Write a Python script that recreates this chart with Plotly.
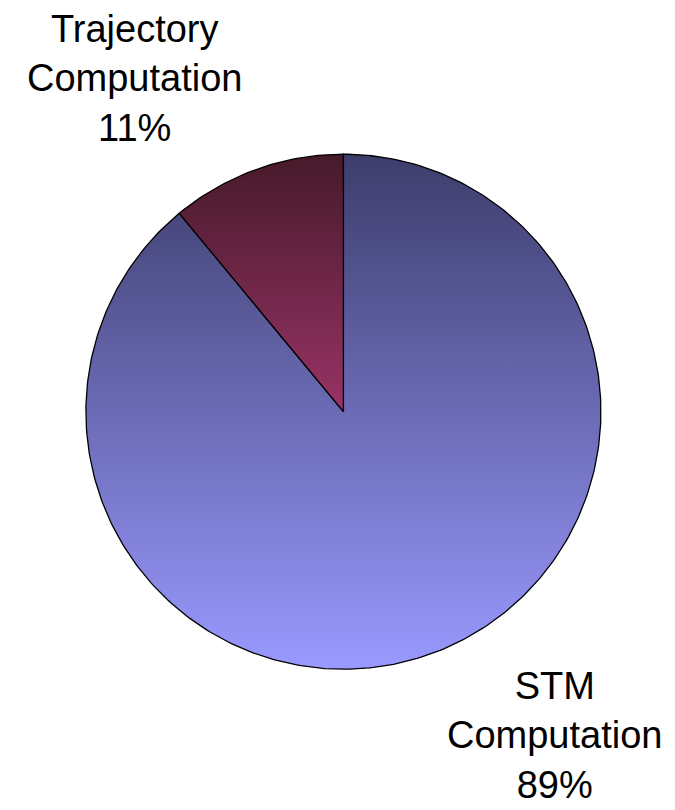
import numpy as np
import plotly.graph_objects as go

# ---- data ----
categories = ["STM<br>Computation", "Trajectory<br>Computation"]
values = [89, 11]
top_colors = ["#3d3d6c", "#461a2a"]
bottom_colors = ["#9999ff", "#993366"]

# ---- layout constants (pixels) ----
W, H = 675, 810
CX, CY, R = 343.4, 411.7, 257.5   # pie centre / radius in px
label_pos_px = [(554, 735), (134, 78)]

x_range = [-CX / R, (W - CX) / R]
y_range = [-(H - CY) / R, CY / R]

fig = go.Figure()
total = float(sum(values))
cum = 0.0
for cat, v, c_top, c_bot in zip(categories, values, top_colors, bottom_colors):
    f0 = cum / total
    f1 = (cum + v) / total
    cum += v
    n = max(int(400 * (f1 - f0)), 8)
    th = np.pi / 2 - 2 * np.pi * np.linspace(f0, f1, n)
    xs = np.concatenate([[0.0], np.cos(th), [0.0]])
    ys = np.concatenate([[0.0], np.sin(th), [0.0]])
    fig.add_trace(go.Scatter(
        x=xs, y=ys, mode="lines", fill="toself",
        line=dict(color="black", width=1.3),
        fillgradient=dict(type="vertical",
                          colorscale=[[0, c_bot], [1, c_top]]),
        hoverinfo="skip", showlegend=False,
    ))

for cat, v, (px, py) in zip(categories, values, label_pos_px):
    pct = round(v / total * 100)
    fig.add_annotation(
        x=px / W, y=1 - py / H, xref="paper", yref="paper",
        text=f"{cat}<br>{pct}%", showarrow=False,
        xanchor="center", yanchor="middle", align="center",
        font=dict(family="Liberation Sans, Arial, sans-serif", size=38, color="black"),
    )

fig.update_layout(
    width=W, height=H,
    margin=dict(l=0, r=0, t=0, b=0),
    paper_bgcolor="white", plot_bgcolor="white",
    xaxis=dict(range=x_range, visible=False, fixedrange=True),
    yaxis=dict(range=y_range, visible=False, fixedrange=True),
    showlegend=False,
)

fig.write_html(
    "out.html",
    config={"displayModeBar": False},
    post_script="document.body.style.margin='0';document.body.style.padding='0';",
)
